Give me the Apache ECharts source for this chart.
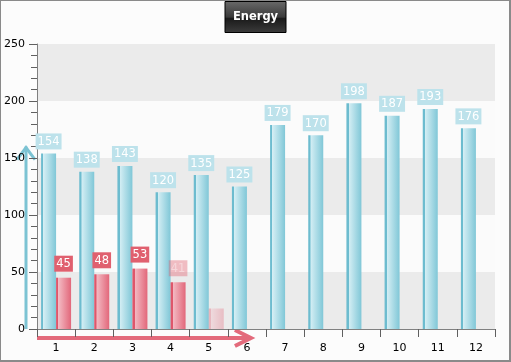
<!DOCTYPE html>
<html><head><meta charset="utf-8">
<script src="https://cdn.jsdelivr.net/npm/echarts@6/dist/echarts.min.js"></script>
<style>
html,body{margin:0;padding:0;background:#fff}
#wrap{position:relative;width:511px;height:362px}
#c{width:511px;height:362px}
#frame{position:absolute;left:0;top:0;width:511px;height:362px;box-sizing:border-box;border-style:solid;border-color:#8a8a8a;border-width:1px 2px 2px 1px;pointer-events:none}
</style>
</head><body>
<div id="wrap"><div id="c"></div><div id="frame"></div></div>
<script>
const categories = ['1','2','3','4','5','6','7','8','9','10','11','12'];
const energyValues = [154,138,143,120,135,125,179,170,198,187,193,176];
const secondValues = [45,48,53,41,18,null,null,null,null,null,null,null];
const yTickValues = [0,50,100,150,200,250];
const arrowYValue = 160;

const FONT = 'DejaVu Sans';
const blueGrad = new echarts.graphic.LinearGradient(0,0,1,0,[
  {offset:0,color:'#6dbccf'},{offset:0.14,color:'#6dbccf'},
  {offset:0.16,color:'#d4eef4'},{offset:1,color:'#80c7d7'}]);
const redGrad = new echarts.graphic.LinearGradient(0,0,1,0,[
  {offset:0,color:'#df566b'},{offset:0.14,color:'#df566b'},
  {offset:0.16,color:'#f3bac3'},{offset:1,color:'#e2677a'}]);

const secondData = secondValues.map((v,i)=>{
  if (v === null) return '-';
  const item = {value:v};
  if (i === 3) item.label = {opacity:0.4};
  if (i === 4) { item.itemStyle = {opacity:0.35}; item.label = {show:false}; }
  return item;
});

const chart = echarts.init(document.getElementById('c'), null, {renderer:'canvas'});
chart.setOption({
  animation:false,
  backgroundColor:'#fcfcfc',
  title:{
    text:'Energy', left:'center', top:1,
    padding:[10,8,10,8],
    backgroundColor:new echarts.graphic.LinearGradient(0,0,0,1,[
      {offset:0,color:'#6a6a6a'},{offset:0.5,color:'#3a3a3a'},{offset:0.55,color:'#1a1a1a'},{offset:1,color:'#3c3c3c'}]),
    borderColor:'#000', borderWidth:1,
    textStyle:{color:'#fff', fontFamily:FONT, fontWeight:'bold', fontSize:11.5}
  },
  grid:{left:37, right:16, top:44, bottom:33},
  xAxis:{
    type:'category', data:categories,
    axisLine:{lineStyle:{color:'#808080', width:1}},
    axisTick:{show:true, length:8, lineStyle:{color:'#606060'}},
    minorTick:{show:true, splitNumber:4, length:5, lineStyle:{color:'#606060'}},
    axisLabel:{color:'#000', fontFamily:FONT, fontSize:11, margin:14},
    splitLine:{show:false}
  },
  yAxis:{
    type:'value', min:yTickValues[0], max:yTickValues[yTickValues.length-1], interval:50,
    axisLine:{show:true, lineStyle:{color:'#808080', width:1}},
    axisTick:{show:true, length:8, lineStyle:{color:'#606060'}},
    minorTick:{show:true, splitNumber:5, length:6, lineStyle:{color:'#606060'}},
    axisLabel:{color:'#000', fontFamily:FONT, fontSize:11, margin:12},
    splitLine:{show:false},
    splitArea:{show:true, areaStyle:{color:['#ebebeb','#fbfbfb']}}
  },
  series:[
    {type:'bar', data:energyValues, barWidth:15, barGap:'0%',
     itemStyle:{color:blueGrad},
     label:{show:true, position:'top', distance:4, color:'#fff', backgroundColor:'#bde2eb',
       padding:[2,2,1,2], lineHeight:13, fontFamily:FONT, fontSize:11.5}},
    {type:'bar', data:secondData, barWidth:15,
     itemStyle:{color:redGrad},
     label:{show:true, position:'top', distance:6, color:'#fff', backgroundColor:'#e0606f',
       padding:[2,2,1,2], lineHeight:13, fontFamily:FONT, fontSize:11.5}}
  ]
});

// decorative axis arrows, positioned from the axis scales
const y0 = chart.convertToPixel({yAxisIndex:0}, 0);
const yTop = chart.convertToPixel({yAxisIndex:0}, arrowYValue);
const xStart = chart.convertToPixel({xAxisIndex:0}, categories[0]);
const x6 = chart.convertToPixel({xAxisIndex:0}, categories[5]);
const band = chart.convertToPixel({xAxisIndex:0}, categories[1]) - xStart;
const axisX = xStart - band/2;
const ax = axisX - 11;
const ry = y0 + 9;
const rEnd = x6 + 4;
chart.setOption({graphic:[
  {type:'polyline', shape:{points:[[ax,y0],[ax,yTop]]}, style:{stroke:'#7cc3d3', lineWidth:3, fill:null}},
  {type:'polyline', shape:{points:[[ax-9,yTop+13],[ax,yTop+1],[ax+9,yTop+13]]}, style:{stroke:'#7cc3d3', lineWidth:3, fill:null}},
  {type:'polyline', shape:{points:[[axisX,ry],[rEnd-1,ry]]}, style:{stroke:'#e36a7b', lineWidth:4, fill:null}},
  {type:'polyline', shape:{points:[[rEnd-16,ry-8],[rEnd,ry],[rEnd-16,ry+8]]}, style:{stroke:'#e36a7b', lineWidth:4, fill:null}}
]});
</script>
</body></html>
